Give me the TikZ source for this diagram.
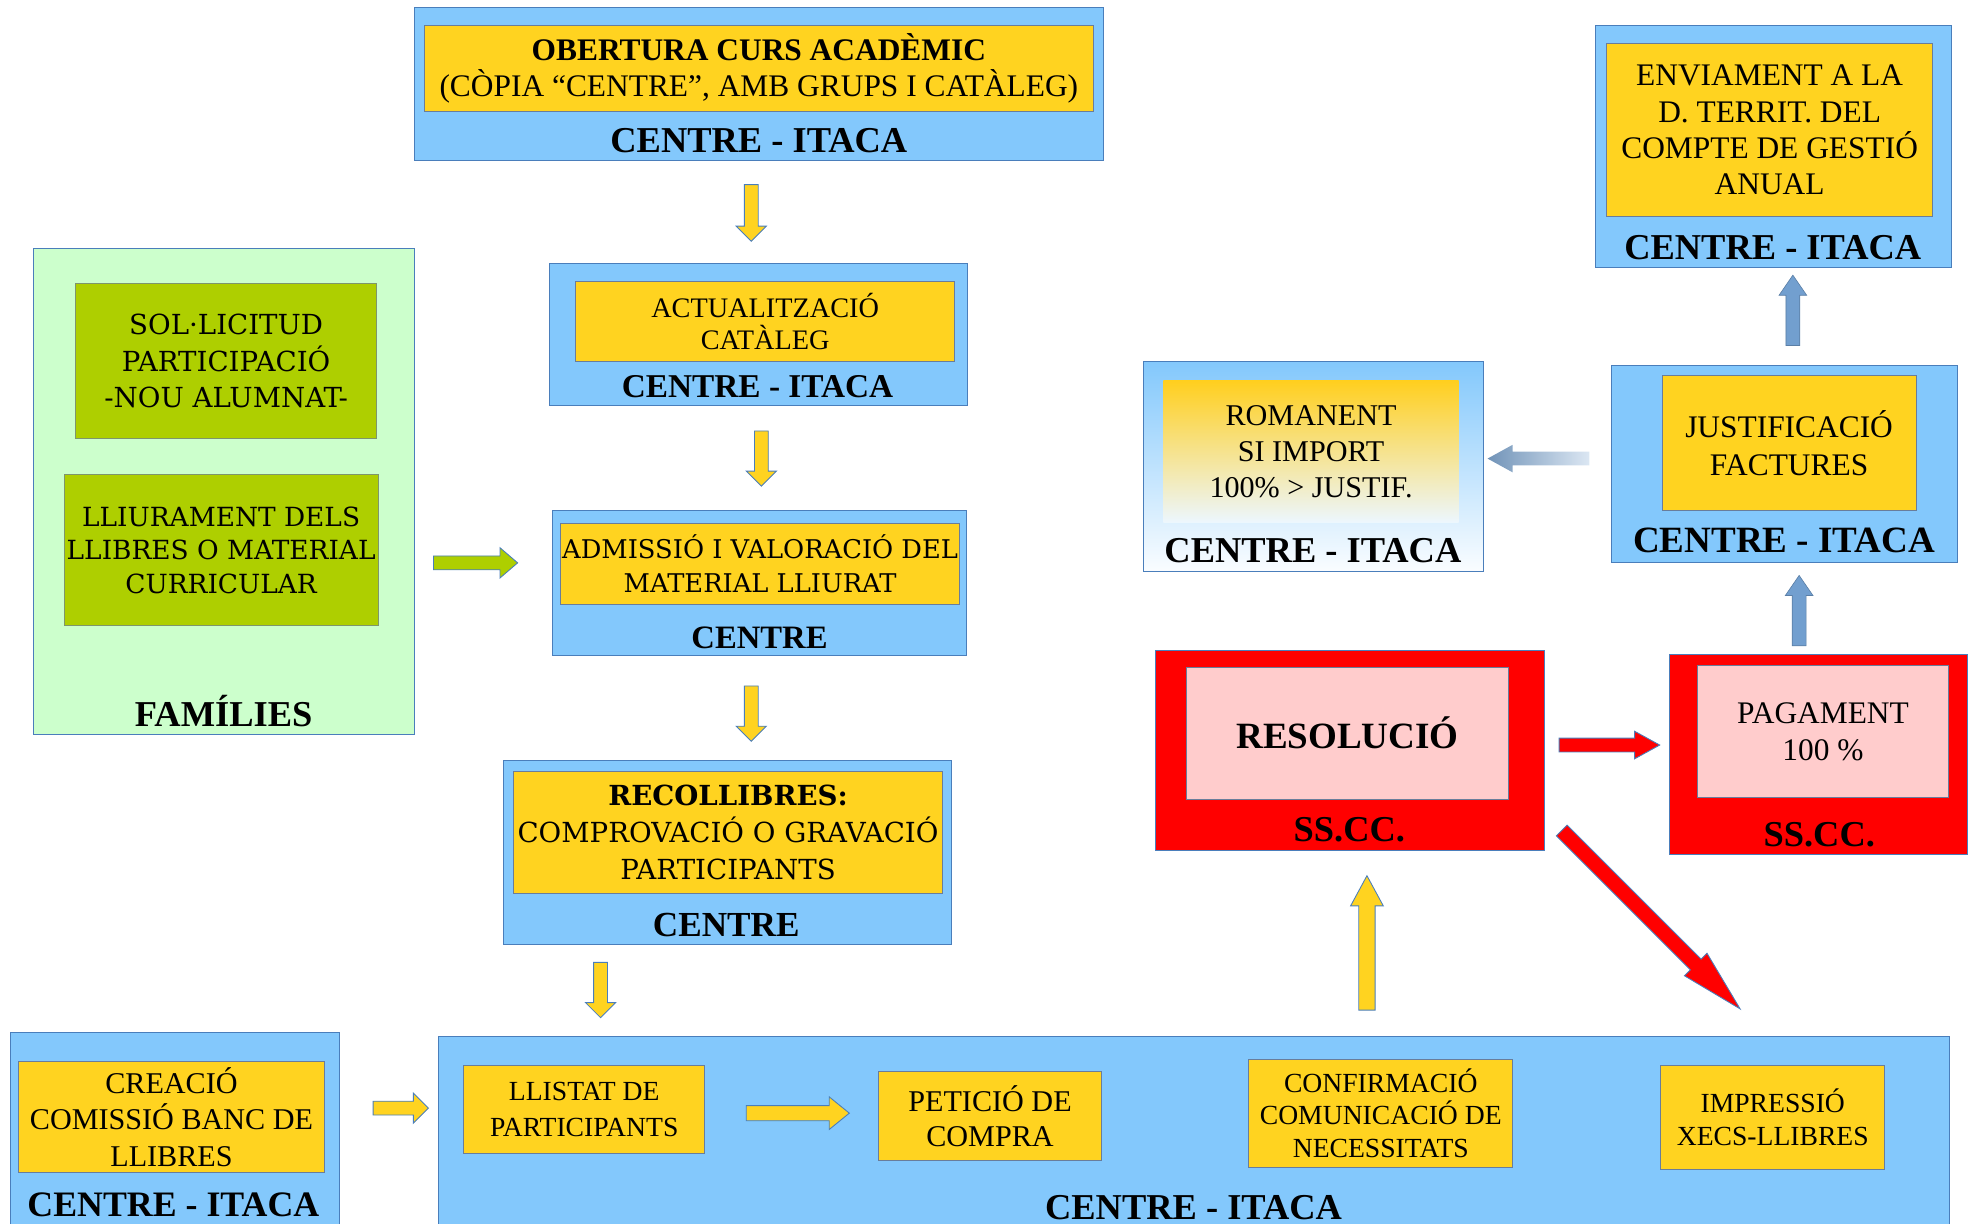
\documentclass[tikz,border=0pt]{standalone}
\usepackage{fontspec}
\setmainfont{Liberation Serif}
\newfontfamily\dvs{DejaVu Serif}
\usetikzlibrary{calc}
\definecolor{skyb}{RGB}{131,200,252}
\definecolor{bordblue}{RGB}{74,126,187}
\definecolor{yel}{RGB}{255,211,32}
\definecolor{ybord}{RGB}{105,125,155}
\definecolor{lgreen}{RGB}{204,255,204}
\definecolor{olive}{RGB}{174,207,0}
\definecolor{pinkb}{RGB}{255,204,204}
\definecolor{redb}{RGB}{255,0,0}
\definecolor{barrow}{RGB}{114,159,207}
\newcommand{\fsz}[2]{\fontsize{#1}{#2}\selectfont}
% block arrow: [style]{start}{end}{shaft half}{head half}{head length}
\newcommand{\blockarrow}[6][]{%
  \coordinate (bah) at ($(#3)!#6!(#2)$);
  \draw[#1] ($(#2)!#4!90:(#3)$) -- ($(bah)!#4!90:(#3)$) -- ($(bah)!#5!90:(#3)$) -- (#3)
    -- ($(bah)!#5!-90:(#3)$) -- ($(bah)!#4!-90:(#3)$) -- ($(#2)!#4!-90:(#3)$) -- cycle;
}
\begin{document}
\begin{tikzpicture}[x=1pt,y=-1pt,
  outer/.style={draw=bordblue, line width=0.8pt, fill=skyb, inner sep=0},
  ybox/.style={draw=ybord, line width=0.8pt, fill=yel, inner sep=0, align=center},
  obox/.style={draw=ybord!70!olive, line width=0.8pt, fill=olive, inner sep=0, align=center},
  redbox/.style={draw=bordblue, line width=0.8pt, fill=redb, inner sep=0},
  pbox/.style={draw=ybord, line width=0.8pt, fill=pinkb, inner sep=0, align=center},
  lab/.style={font=\bfseries\fsz{#1}{#1}, inner sep=0, text height=19pt, text depth=0pt},
  lab/.default=29,
  yarr/.style={fill=yel, draw=bordblue, line width=0.7pt},
  garr/.style={fill=olive, draw=bordblue, line width=0.7pt},
  rarr/.style={fill=redb, draw=bordblue, line width=0.7pt},
  barr/.style={fill=barrow, draw=barrow!80!black, line width=0.5pt}
]
\useasboundingbox (0,0) rectangle (1568,974);
\clip (0,0) rectangle (1568,974);

% ---------- outer containers ----------
\node[outer, minimum width=548, minimum height=122] (obertO) at (604,67) {};
\node[outer, minimum width=333, minimum height=113] (actO) at (603.5,266.5) {};
\node[outer, minimum width=329, minimum height=116] (admO) at (604.5,464) {};
\node[outer, minimum width=356, minimum height=147] (recO) at (579,678.5) {};
\node[draw=bordblue, line width=0.8pt, fill=lgreen, minimum width=303, minimum height=387, inner sep=0] (famO) at (178.5,391.5) {};
\node[outer, minimum width=262, minimum height=160] (creO) at (139,902) {};
\node[outer, minimum width=1203, minimum height=160] (botO) at (950.5,905) {};
\node[redbox, minimum width=309, minimum height=159] (resO) at (1074.5,597.5) {};
\node[redbox, minimum width=237, minimum height=159] (pagO) at (1447.5,600.5) {};
\node[outer, minimum width=275, minimum height=157] (justO) at (1420.5,369.5) {};
\node[draw=bordblue, line width=0.8pt, top color=skyb, bottom color=white!96!skyb, inner sep=0, minimum width=271, minimum height=167] (romO) at (1045.5,371.5) {};
\node[outer, minimum width=283, minimum height=193] (envO) at (1411.5,116.5) {};

% ---------- inner boxes ----------
\node[ybox, minimum width=532, minimum height=69, font=\fsz{25}{29}] (obertI) at (604,54.5)
  {\textbf{OBERTURA CURS ACADÈMIC}\\(CÒPIA “CENTRE”, AMB GRUPS I CATÀLEG)};
\node[ybox, minimum width=302, minimum height=64, font=\fsz{22.5}{26}] (actI) at (609,256)
  {ACTUALITZACIÓ\\CATÀLEG};
\node[ybox, minimum width=318, minimum height=64, font=\dvs\fsz{20.5}{27}] (admI) at (605,449)
  {ADMISSIÓ I VALORACIÓ DEL\\MATERIAL LLIURAT};
\node[ybox, minimum width=341, minimum height=97, font=\dvs\fsz{22}{29.5}] (recI) at (579.5,662.5)
  {\textbf{RECOLLIBRES:}\\COMPROVACIÓ O GRAVACIÓ\\PARTICIPANTS};
\node[obox, minimum width=240, minimum height=123, font=\dvs\fsz{22}{29}] (solI) at (180,287.5)
  {SOL·LICITUD\\PARTICIPACIÓ\\-NOU ALUMNAT-};
\node[obox, minimum width=250, minimum height=120, font=\dvs\fsz{21}{26.5}] (lliI) at (176,438)
  {LLIURAMENT DELS\\LLIBRES O MATERIAL\\CURRICULAR};
\node[ybox, minimum width=243, minimum height=88, font=\fsz{24}{29}] (creI) at (136.5,889)
  {CREACIÓ\\COMISSIÓ BANC DE\\LLIBRES};
\node[ybox, minimum width=192, minimum height=70, font=\fsz{22}{28}] (llistI) at (465,883)
  {LLISTAT DE\\PARTICIPANTS};
\node[ybox, minimum width=178, minimum height=71, font=\fsz{24}{28}] (petI) at (788,888.5)
  {PETICIÓ DE\\COMPRA};
\node[ybox, minimum width=210, minimum height=86, font=\fsz{22}{26}] (confI) at (1099,886)
  {CONFIRMACIÓ\\COMUNICACIÓ DE\\NECESSITATS};
\node[ybox, minimum width=178, minimum height=83, font=\fsz{22}{26}] (impI) at (1411,889.5)
  {IMPRESSIÓ\\XECS-LLIBRES};
\node[pbox, minimum width=257, minimum height=105, font=\bfseries\fsz{29.5}{32}] (resI) at (1072.5,583.5)
  {RESOLUCIÓ};
\node[pbox, minimum width=200, minimum height=105, font=\fsz{25}{30}] (pagI) at (1451,582.5)
  {PAGAMENT\\100 \%};
\node[ybox, minimum width=202, minimum height=107, font=\fsz{25}{30}] (justI) at (1424,352.5)
  {JUSTIFICACIÓ\\FACTURES};
\node[draw=none, top color=yel!95!orange, bottom color=white!85!skyb, inner sep=0, align=center,
  minimum width=235, minimum height=113, font=\fsz{24}{29}] (romI) at (1043.5,359.5)
  {ROMANENT\\SI IMPORT\\100\% > JUSTIF.};
\node[ybox, minimum width=259, minimum height=137, font=\fsz{25}{29}] (envI) at (1408.5,103.5)
  {ENVIAMENT A LA\\D. TERRIT. DEL\\COMPTE DE GESTIÓ\\ANUAL};

% ---------- container labels ----------
\node[lab] (l1) at (604,112) {CENTRE - ITACA};
\node[lab=26.5] (l2) at (603,307) {CENTRE - ITACA};
\node[lab=26] (l3) at (604.5,507) {CENTRE};
\node[lab=28] (l4) at (578,736) {CENTRE};
\node[lab] (l5) at (178,569) {FAMÍLIES};
\node[lab=28.5] (l6) at (138,959) {CENTRE - ITACA};
\node[lab] (l7) at (950,961) {CENTRE - ITACA};
\node[lab] (l8) at (1074,660) {SS.CC.};
\node[lab] (l9) at (1448,664) {SS.CC.};
\node[lab=29.5] (l10) at (1420,430) {CENTRE - ITACA};
\node[lab] (l11) at (1045,438) {CENTRE - ITACA};
\node[lab] (l12) at (1411,197) {CENTRE - ITACA};

% ---------- arrows ----------
\coordinate (a1s) at (598,147);  \coordinate (a1e) at (598,192);
\coordinate (a2s) at (606,343);  \coordinate (a2e) at (606,387);
\coordinate (a3s) at (598,546);  \coordinate (a3e) at (598,590);
\coordinate (a4s) at (478,766);  \coordinate (a4e) at (478,810);
\coordinate (a5s) at (345,448);  \coordinate (a5e) at (412,448);
\coordinate (a6s) at (297,882);  \coordinate (a6e) at (341,882);
\coordinate (a7s) at (594,886);  \coordinate (a7e) at (676,886);
\coordinate (a8s) at (1088,804); \coordinate (a8e) at (1088,697);
\coordinate (a9s) at (1241,593); \coordinate (a9e) at (1321,593);
\coordinate (a10s) at (1243,661); \coordinate (a10e) at (1385,803);
\coordinate (a11s) at (1432,514); \coordinate (a11e) at (1432,458);
\coordinate (a12s) at (1427,275); \coordinate (a12e) at (1427,219);
\coordinate (a13s) at (1265,365); \coordinate (a13e) at (1184,365);

\blockarrow[yarr]{a1s}{a1e}{5.5pt}{12pt}{12pt}
\blockarrow[yarr]{a2s}{a2e}{5.5pt}{12pt}{12pt}
\blockarrow[yarr]{a3s}{a3e}{5.5pt}{12pt}{12pt}
\blockarrow[yarr]{a4s}{a4e}{5.5pt}{12pt}{12pt}
\blockarrow[garr]{a5s}{a5e}{5.5pt}{12pt}{14pt}
\blockarrow[yarr]{a6s}{a6e}{5.5pt}{12pt}{12pt}
\blockarrow[yarr]{a7s}{a7e}{6pt}{13pt}{16pt}
\blockarrow[yarr]{a8s}{a8e}{6.5pt}{13pt}{24pt}
\blockarrow[rarr]{a9s}{a9e}{5.5pt}{11pt}{20pt}
\blockarrow[rarr]{a10s}{a10e}{6pt}{12.7pt}{50pt}
\blockarrow[barr]{a11s}{a11e}{5.5pt}{11pt}{16pt}
\blockarrow[barr]{a12s}{a12e}{5.5pt}{11pt}{16pt}
\blockarrow[draw=none, left color=barrow!85!black!90, right color=barrow!25!white]{a13s}{a13e}{5.5pt}{11pt}{20pt}
\end{tikzpicture}
\end{document}
